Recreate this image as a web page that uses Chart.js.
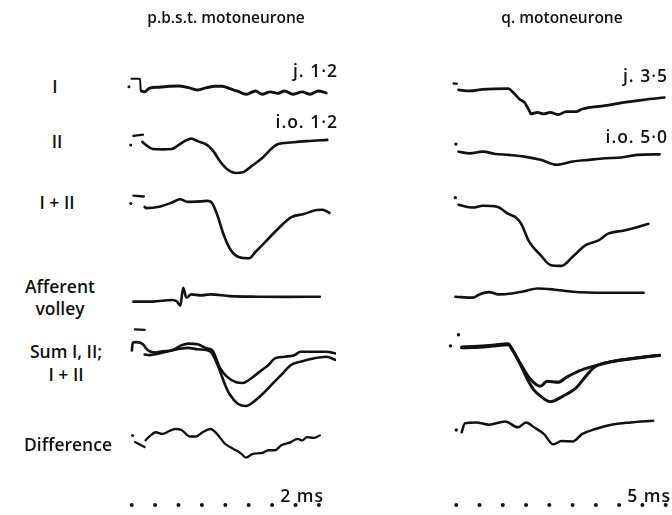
<!DOCTYPE html>
<html>
<head>
<meta charset="utf-8">
<script src="https://cdn.jsdelivr.net/npm/chart.js@4.4.1/dist/chart.umd.min.js"></script>
<style>
  body { margin: 0; background: #fff; }
  #fig { position: relative; width: 672px; height: 515px; overflow: hidden;
         font-family: "Open Sans", "Liberation Sans", Arial, sans-serif; font-weight: 600; color: #111; }
  #fig canvas { position: absolute; top: 0; }
  .t { position: absolute; font-size: 17.5px; line-height: 1; white-space: nowrap; transform: translate(-50%, -50%); }
  .head { font-size: 15.5px; }
  .r { transform: translate(-100%, -50%); letter-spacing: 1px; }
</style>
</head>
<body>
<div id="fig">
  <canvas id="left" width="230" height="515" style="left:110px"></canvas>
  <canvas id="right" width="232" height="515" style="left:440px"></canvas>

  <div class="t head" style="left:226px; top:18px">p.b.s.t. motoneurone</div>
  <div class="t head" style="left:562px; top:18px">q. motoneurone</div>

  <div class="t" style="left:55px; top:87px">I</div>
  <div class="t" style="left:57px; top:142px">II</div>
  <div class="t" style="left:57px; top:203px">I + II</div>
  <div class="t" style="left:60px; top:287px">Afferent</div>
  <div class="t" style="left:60px; top:309px">volley</div>
  <div class="t" style="left:66px; top:352px">Sum I, II;</div>
  <div class="t" style="left:66px; top:375px">I + II</div>
  <div class="t" style="left:68px; top:445px">Difference</div>

  <div class="t r" style="left:338px; top:71px">j. 1·2</div>
  <div class="t r" style="left:338px; top:122px">i.o. 1·2</div>
  <div class="t r" style="left:668px; top:76px">j. 3·5</div>
  <div class="t r" style="left:668px; top:137px">i.o. 5·0</div>
  <div class="t r" style="left:324px; top:496px">2 ms</div>
  <div class="t r" style="left:671px; top:496px">5 ms</div>
</div>

<script>
// time (ms), potential (arbitrary units, up = depolarising) for each record

// p.b.s.t. motoneurone
const pbstI = [[0.103,-0.3],[0.138,-1.3],[0.19,2.5],[0.296,3.5],[0.399,4.5],[0.502,4.7],[0.605,3],[0.705,0.7],[0.801,3],[0.894,4.5],[0.966,4.5],[1.048,2],[1.131,-0.5],[1.221,-3.7],[1.324,-0.3],[1.392,-3.7],[1.478,-1.3],[1.564,-2.7],[1.633,-0.3],[1.719,-3.7],[1.822,-1.3],[1.907,-3.7],[1.994,-0.3],[2.079,-2.5]];
const pbstII = [[0.113,0],[0.155,-3.3],[0.224,-7.3],[0.327,-7.7],[0.43,-7.3],[0.499,-3.3],[0.585,1.7],[0.636,3.3],[0.705,0.7],[0.808,-3.3],[0.876,-10],[0.945,-20],[1.014,-27.3],[1.118,-31.7],[1.186,-31],[1.289,-24],[1.392,-16.7],[1.495,-6.7],[1.564,-2.3],[1.701,-0.7],[1.873,0.7],[2.09,2]];
const pbstBoth = [[0.138,0.5],[0.155,-0.8],[0.293,0.5],[0.43,4.8],[0.515,8.2],[0.602,5.5],[0.739,6],[0.808,6.5],[0.853,5],[0.911,-6.8],[0.979,-26.8],[1.048,-41.8],[1.151,-50.8],[1.254,-51.8],[1.324,-45.2],[1.427,-35.2],[1.564,-21.8],[1.701,-10.2],[1.839,-6.8],[1.976,-2.8],[2.038,-2.5],[2.113,-5.8]];
const pbstVolley = [[0.018,-0.3],[0.223,-0.3],[0.43,1.3],[0.481,0],[0.52,-4.4],[0.55,13.7],[0.585,3.7],[0.636,7],[0.739,6],[0.842,7],[1.048,5.3],[1.357,4.7],[1.666,4.5],[2.01,4.7]];
const pbstSum = [[0.002,1.5],[0.012,9.5],[0.048,10],[0.121,8],[0.155,3.5],[0.206,0.2],[0.258,-0.5],[0.327,0.8],[0.43,1.8],[0.533,6.8],[0.602,8.5],[0.705,7.8],[0.808,3.5],[0.86,1.8],[0.945,-16.5],[1.014,-24.8],[1.118,-30.8],[1.186,-31.5],[1.255,-28.2],[1.324,-23.2],[1.392,-18.2],[1.461,-13.2],[1.53,-6.5],[1.633,-4.8],[1.736,-3.2],[1.804,0.2],[1.942,0.2],[2.079,0.2],[2.182,-1.5]];
const pbstBothAgain = [[0.138,-2.5],[0.19,-3.2],[0.293,-1.5],[0.43,1.5],[0.533,3.5],[0.602,4.2],[0.705,2.8],[0.808,1.8],[0.86,-1.5],[0.945,-19.8],[0.997,-33.2],[1.048,-43.2],[1.134,-52.5],[1.221,-54.8],[1.289,-51.5],[1.392,-43.2],[1.495,-33.2],[1.598,-23.2],[1.701,-13.2],[1.804,-9.8],[1.942,-6.5],[2.079,-4.8],[2.182,-8.2]];
const pbstDiff = [[0.148,0],[0.19,4],[0.258,8.3],[0.327,6.6],[0.396,9.3],[0.464,11.6],[0.533,10.6],[0.619,4],[0.688,4],[0.757,8.3],[0.842,11.6],[0.911,6.6],[0.997,-3.4],[1.082,-8.4],[1.169,-13.4],[1.221,-17.4],[1.289,-14],[1.392,-12.7],[1.461,-10],[1.53,-10],[1.598,-5],[1.701,-1.7],[1.77,1.6],[1.822,0],[1.873,3.3],[1.942,2.6],[2.01,5]];

// q. motoneurone
const qI = [[0.048,0],[0.29,-1],[0.566,0.6],[1.12,1.3],[1.224,-2.7],[1.361,-9.4],[1.465,-12.7],[1.568,-21],[1.604,-24.4],[1.743,-22.7],[1.88,-24.4],[2.019,-22.7],[2.191,-25],[2.365,-22],[2.573,-22],[2.71,-19.4],[3.195,-16],[3.61,-12.7],[4.025,-10],[4.473,-7.7]];
const qII = [[0.048,0],[0.29,-1.7],[0.566,0],[0.842,-2.3],[1.12,-3.3],[1.465,-5],[1.811,-8.3],[2.158,-13.3],[2.502,-10],[2.849,-8.3],[3.195,-6.7],[3.539,-6],[3.886,-3.3],[4.369,-2.7]];
const qBoth = [[0.048,0],[0.359,-2.7],[0.566,-1],[0.878,-2],[1.12,-9.3],[1.293,-13.3],[1.396,-19.3],[1.568,-37.7],[1.811,-51],[2.019,-61],[2.261,-62],[2.502,-52.7],[2.78,-41],[3.056,-36],[3.263,-29.3],[3.61,-26],[3.886,-22.7],[4.129,-19.3]];
const qVolley = [[-0.02,0],[0.359,-1],[0.498,2.3],[0.705,4.6],[0.913,2.3],[1.189,3.3],[1.465,5.6],[1.743,8.3],[2.087,7.3],[2.502,5],[3.195,4],[4.025,4]];
const qSum = [[0.116,0],[0.359,0.3],[0.774,1.6],[1.12,3.3],[1.189,-1.7],[1.396,-18.4],[1.604,-33.4],[1.811,-40],[1.95,-35],[2.191,-36],[2.365,-31],[2.641,-24.4],[2.917,-20],[3.332,-15],[3.886,-11],[4.369,-8.4]];
const qBothAgain = [[0.116,-1],[0.359,-0.7],[0.774,0.8],[1.12,2.3],[1.23,-4.7],[1.396,-19.7],[1.535,-33.4],[1.666,-43.7],[1.811,-50],[2.019,-55.7],[2.295,-50],[2.573,-41.7],[2.78,-30],[2.988,-20],[3.332,-15],[3.886,-11.4],[4.369,-8.7]];
const qDiff = [[0.116,-9],[0.187,0],[0.427,1],[0.705,-1.3],[1.05,2],[1.328,-4],[1.5,1],[1.672,-4],[1.88,-10.7],[2.087,-21.3],[2.261,-18],[2.502,-18.3],[2.71,-10.7],[2.988,-5.7],[3.332,-1.3],[3.747,1],[4.232,2.7]];

// beam position marks before each sweep
const pbstMarkStep = [[-0.003,12],[0.09,12],[0.095,1]];
const pbstMarkII = [[0.018,6],[0.12,7.3]];
const pbstMarkBoth = [[0.019,11.8],[0.13,11]];
const pbstMarkSum = [[0.035,23],[0.138,22.5]];
const pbstMarkDiff = [[0.035,-1.7],[0.138,-6.7]];
const pbstMarkDots = [[-0.029,4],[-0.01,-3.3],[-0.01,3.8],[0.01,5]];
const qMarkI = [[-0.056,6.6],[0.012,6.3]];
const qMarkDots = [[-0.008,7.7],[-0.02,7.3],[0.048,12.3],[-0.124,1],[0,-6.7]];

// time marker dots
const pbstTimeMarks = [0, 0.25, 0.5, 0.75, 1, 1.25, 1.5, 1.75, 2];
const qTimeMarks = [0, 0.5, 1, 1.5, 2, 2.5, 3, 3.5, 4, 4.5];

// vertical level of each row on the page scale
const pbstLevels = [427, 375, 308.5, 213, 161.5, 71.7];
const qLevels = [427.7, 365, 311, 217.7, 166.7, 89];
const markerLevel = 6;

const INK = "#111";

function line(pairs, level, width) {
  return {
    data: pairs.map(([t, v]) => ({ x: t, y: level + v })),
    borderColor: INK,
    borderWidth: width || 2.6,
    pointRadius: 0,
    cubicInterpolationMode: "monotone",
    borderCapStyle: "round",
    borderJoinStyle: "round",
    fill: false
  };
}

function dots(pairs, levels, r) {
  return {
    data: pairs.map(([t, v], i) => ({ x: t, y: levels[i] + v })),
    showLine: false,
    pointRadius: r,
    pointBackgroundColor: INK,
    pointBorderWidth: 0
  };
}

function sweepChart(id, xRange, datasets) {
  return new Chart(document.getElementById(id), {
    type: "line",
    data: { datasets },
    options: {
      responsive: false,
      animation: false,
      devicePixelRatio: 1,
      layout: { padding: 0 },
      scales: {
        x: { type: "linear", display: false, min: xRange[0], max: xRange[1] },
        y: { type: "linear", display: false, min: 0, max: 515 }
      },
      plugins: { legend: { display: false }, tooltip: { enabled: false } }
    }
  });
}

const L = pbstLevels;
sweepChart("left", [-0.1887, 2.1825], [
  line(pbstI, L[0], 2.9),
  line(pbstII, L[1]),
  line(pbstBoth, L[2]),
  line(pbstVolley, L[3]),
  line(pbstSum, L[4]),
  line(pbstBothAgain, L[4]),
  line(pbstDiff, L[5], 2.3),
  line(pbstMarkStep, L[0], 2),
  line(pbstMarkII, L[1], 2.4),
  line(pbstMarkBoth, L[2], 2.4),
  line(pbstMarkSum, L[4], 2.4),
  line(pbstMarkDiff, L[5], 2.2),
  dots(pbstMarkDots, [L[0], L[1], L[2], L[5]], 1.5),
  dots(pbstTimeMarks.map(t => [t, 0]), pbstTimeMarks.map(() => markerLevel), 2)
]);

const R = qLevels;
sweepChart("right", [-0.2635, 4.55], [
  line(qI, R[0], 2.7),
  line(qII, R[1]),
  line(qBoth, R[2]),
  line(qVolley, R[3]),
  line(qSum, R[4], 3),
  line(qBothAgain, R[4], 3),
  line(qDiff, R[5], 2.5),
  line(qMarkI, R[0], 2.4),
  dots(qMarkDots, [R[1], R[2], R[4], R[4], R[5]], 1.7),
  dots(qTimeMarks.map(t => [t, 0]), qTimeMarks.map(() => markerLevel), 2)
]);
</script>
</body>
</html>
